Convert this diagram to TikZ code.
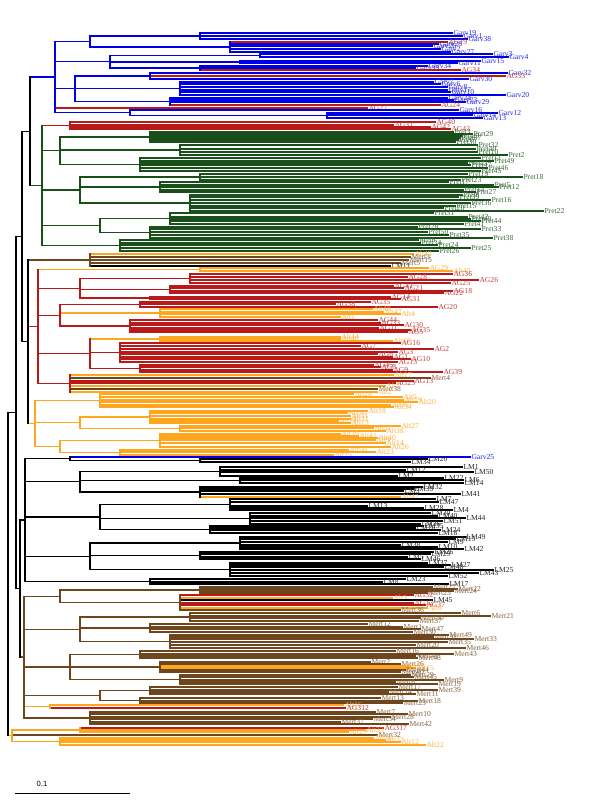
\documentclass[tikz,border=0pt]{standalone}
\usepackage{fontspec}
\setmainfont{Liberation Serif}
\newfontfamily\arialf{Liberation Sans}
\definecolor{gv}{RGB}{0,0,230}
\definecolor{ag}{RGB}{185,25,25}
\definecolor{pt}{RGB}{25,80,25}
\definecolor{al}{RGB}{255,165,30}
\definecolor{lm}{RGB}{0,0,0}
\definecolor{mt}{RGB}{110,70,30}
\tikzset{br/.style={line width=1.05pt,line cap=rect},
  lbl/.style={font=\fontsize{5.7}{6}\selectfont,inner sep=0.6pt,anchor=west}}
\newcommand\Up[1]{\pgfmathsetmacro\cmin{min(\cmin,#1)}\pgfmathsetmacro\cmax{max(\cmax,#1)}}
\newcommand\Op[1]{\begingroup\def\cx{#1}\def\cmin{9999}\def\cmax{-9999}}
\newcommand\Cl[1]{%
  \draw[br,color=#1] (\cx,\cmin) -- (\cx,\cmax);
  \pgfmathsetmacro\cmid{(\cmin+\cmax)/2}%
  \xdef\tmid{\cmid}\xdef\tx{\cx}\xdef\tcol{#1}%
  \endgroup
  \draw[br,color=\tcol] (\cx,\tmid) -- (\tx,\tmid);
  \Up{\tmid}}
\newcommand\Lf[4]{\draw[br,color=#3] (\cx,#1) -- (#2,#1) node[lbl,text=#3!85!white]{#4};\Up{#1}}
\begin{document}
\begin{tikzpicture}[x=0.75pt,y=-0.75pt]
\fill[white] (0,0) rectangle (600,800);
\useasboundingbox (0,0) rectangle (600,800);
\def\cx{8}\def\cmin{9999}\def\cmax{-9999}
\Op{8}
 \Op{16}
  \Op{22}
   \Op{30}
    % ---------- Garv clade
    \Op{55}
     \Op{90}
      \Op{200}\Lf{33}{452}{gv}{Garv19}\Lf{36}{462}{gv}{Garv1}\Lf{39}{467}{gv}{Garv38}\Cl{gv}
      \Op{230}\Lf{42}{447}{ag}{AG19}\Lf{44}{438}{gv}{Garv28}\Lf{46}{432}{gv}{Garv26}\Lf{49}{440}{gv}{Garv2}\Lf{52}{450}{gv}{Garv27}\Cl{gv}
     \Cl{gv}
     \Op{110}
      \Op{260}\Lf{54}{492}{gv}{Garv3}\Lf{57}{508}{gv}{Garv4}\Cl{gv}
      \Op{240}\Lf{61}{480}{gv}{Garv15}\Lf{63}{457}{gv}{Garv11}\Cl{gv}
      \Op{200}\Lf{66}{427}{gv}{Garv34}\Lf{68}{415}{gv}{Garv33}\Lf{70}{460}{ag}{AG34}\Cl{gv}
     \Cl{gv}
     \Op{75}
      \Op{150}\Lf{73}{507}{gv}{Garv32}\Lf{76}{505}{ag}{AG33}\Lf{79}{468}{gv}{Garv30}\Cl{gv}
      \Op{180}\Lf{82}{433}{gv}{Garv7}\Lf{84}{440}{gv}{Garv6}\Lf{87}{447}{gv}{Garv8}\Lf{90}{447}{gv}{Garv17}\Lf{92}{450}{gv}{Garv10}\Lf{95}{505}{gv}{Garv20}\Cl{gv}
      \Op{170}\Lf{98}{447}{gv}{Garv24}\Lf{100}{453}{gv}{Garv23}\Lf{102}{465}{gv}{Garv29}\Lf{105}{440}{ag}{AG24}\Cl{gv}
     \Cl{gv}
     \Lf{108}{367}{ag}{AG27}
     \Op{130}\Lf{110}{458}{gv}{Garv16}
      \Op{327}\Lf{113}{497}{gv}{Garv12}\Lf{115}{472}{gv}{Garv14}\Lf{118}{482}{gv}{Garv13}\Cl{gv}
     \Cl{gv}
    \Cl{gv}
    % ---------- Pret clade
    \Op{42}
     \Op{70}\Lf{122}{435}{ag}{AG40}\Lf{125}{393}{ag}{AG31}\Lf{127}{430}{ag}{AG42}\Lf{129}{450}{ag}{AG43}\Cl{ag}
     \Op{60}
      \Op{150}\Lf{132}{453}{pt}{Pret3}\Lf{134}{472}{pt}{Pret29}\Lf{136}{462}{pt}{Pret9}\Lf{138}{460}{pt}{Pret37}\Lf{140}{458}{pt}{Pret7}\Lf{142}{455}{pt}{Pret30}\Cl{pt}
      \Op{180}\Lf{145}{477}{pt}{Pret32}\Lf{149}{475}{pt}{Pret40}\Lf{152}{477}{pt}{Pret10}\Lf{155}{507}{pt}{Pret2}\Cl{pt}
      \Op{140}\Lf{158}{480}{pt}{Pret11}\Lf{161}{493}{pt}{Pret49}\Lf{163}{467}{pt}{Pret21}\Lf{165}{470}{pt}{Pret47}\Lf{168}{487}{pt}{Pret46}\Lf{171}{480}{pt}{Pret45}\Cl{pt}
     \Cl{pt}
     \Op{80}
      \Op{200}\Lf{174}{467}{pt}{Pret19}\Lf{177}{522}{pt}{Pret18}\Lf{180}{460}{pt}{Pret23}\Cl{pt}
      \Op{160}\Lf{182}{448}{pt}{Pret17}\Lf{185}{493}{pt}{Pret5}\Lf{187}{498}{pt}{Pret12}\Lf{190}{463}{pt}{Pret14}\Lf{192}{475}{pt}{Pret27}\Cl{pt}
      \Op{190}\Lf{195}{462}{pt}{Pret8}\Lf{197}{458}{pt}{Pret39}\Lf{200}{490}{pt}{Pret16}\Lf{203}{470}{pt}{Pret36}\Lf{206}{455}{pt}{Pret15}\Lf{208}{443}{pt}{Pret20}\Lf{211}{543}{pt}{Pret22}\Cl{pt}
     \Cl{pt}
     \Op{100}
      \Op{170}\Lf{213}{433}{pt}{Pret31}\Lf{217}{467}{pt}{Pret42}\Lf{219}{470}{pt}{Pret48}\Lf{221}{480}{pt}{Pret44}\Lf{224}{463}{pt}{Pret41}\Cl{pt}
      \Op{150}\Lf{227}{417}{pt}{Pret28}\Lf{229}{480}{pt}{Pret33}\Lf{232}{427}{pt}{Pret50}\Lf{235}{448}{pt}{Pret35}\Lf{238}{492}{pt}{Pret38}\Cl{pt}
     \Cl{pt}
     \Op{120}\Lf{240}{418}{pt}{Pret6}\Lf{243}{420}{pt}{Pret34}\Lf{245}{437}{pt}{Pret24}\Lf{248}{470}{pt}{Pret25}\Lf{251}{438}{pt}{Pret26}\Cl{pt}
    \Cl{pt}
   \Cl{lm}
   \Op{28}
    % ---------- small mixed group
    \Op{90}\Lf{254}{413}{al}{Alt43}\Lf{257}{410}{mt}{Mert3}\Lf{260}{408}{mt}{Mert15}\Lf{263}{400}{mt}{Mert5}\Lf{266}{390}{lm}{LM11}\Cl{mt}
    % ---------- AG clade
    \Op{38}
     \Op{200}\Lf{268}{428}{al}{AG29}\Lf{271}{452}{al}{Alt45}\Cl{al}
     \Op{80}
      \Op{190}\Lf{274}{452}{ag}{AG36}\Lf{277}{407}{ag}{AG28}\Lf{280}{478}{ag}{AG26}\Lf{283}{450}{ag}{AG25}\Cl{ag}
      \Op{170}\Lf{286}{393}{ag}{AG41}\Lf{288}{403}{ag}{AG21}\Lf{291}{452}{ag}{AG18}\Lf{293}{443}{ag}{AG22}\Cl{ag}
      \Op{150}\Lf{297}{390}{ag}{AG14}\Lf{299}{400}{ag}{AG31}\Cl{ag}
     \Cl{ag}
     \Op{60}
      \Op{140}\Lf{302}{370}{ag}{AG35}\Lf{304}{335}{ag}{AG38}\Lf{307}{437}{ag}{AG20}\Cl{ag}
      \Op{160}\Lf{309}{372}{al}{Alt48}\Lf{312}{383}{al}{Alt47}\Lf{314}{400}{al}{Alt4}\Lf{317}{340}{al}{Alt1}\Cl{al}
      \Op{130}\Lf{320}{377}{ag}{AG44}\Lf{323}{380}{ag}{AG33}\Lf{325}{403}{ag}{AG30}\Lf{328}{378}{ag}{AG11}\Lf{330}{410}{ag}{AG35}\Lf{332}{407}{ag}{AG5}\Cl{ag}
     \Cl{ag}
     \Op{90}
      \Op{160}\Lf{337}{340}{al}{Alt44}\Lf{339}{340}{al}{Alt46}\Lf{341}{392}{al}{Alt10}\Cl{al}
      \Op{120}\Lf{343}{400}{ag}{AG16}\Lf{346}{360}{ag}{AG7}\Lf{349}{433}{ag}{AG2}\Lf{352}{397}{ag}{AG3}\Lf{354}{377}{ag}{AG6}\Lf{357}{392}{ag}{AG1}\Lf{359}{410}{ag}{AG10}\Lf{362}{397}{ag}{AG15}\Cl{ag}
      \Op{140}\Lf{365}{373}{ag}{AG45}\Lf{367}{380}{ag}{AG8}\Lf{370}{392}{ag}{AG9}\Lf{372}{442}{ag}{AG39}\Cl{ag}
     \Cl{ag}
     \Op{70}\Lf{375}{393}{al}{Alt17}\Lf{378}{430}{mt}{Mert4}\Lf{381}{413}{ag}{AG13}\Lf{383}{395}{ag}{AG23}\Lf{386}{385}{al}{Alt7}\Lf{389}{377}{mt}{Mert38}\Lf{392}{377}{al}{Alt2}\Cl{ag}
    \Cl{ag}
    % ---------- Alt clade
    \Op{35}
     \Op{100}\Lf{394}{353}{al}{Alt28}\Lf{397}{402}{al}{Alt5}\Lf{400}{403}{al}{Alt19}\Lf{402}{417}{al}{Alt20}\Lf{405}{390}{al}{Alt35}\Lf{407}{393}{al}{Alt34}\Cl{al}
     \Op{80}
      \Op{150}\Lf{411}{367}{al}{Alt18}\Lf{413}{347}{al}{Alt30}\Lf{416}{350}{al}{Alt11}\Lf{419}{350}{al}{Alt31}\Lf{421}{338}{al}{Alt21}\Lf{423}{350}{al}{Alt13}\Cl{al}
      \Op{180}\Lf{426}{400}{al}{Alt27}\Lf{428}{373}{al}{Alt37}\Lf{431}{385}{al}{Alt38}\Cl{al}
     \Cl{al}
     \Op{60}
      \Op{160}\Lf{434}{340}{al}{Alt39}\Lf{436}{358}{al}{Alt41}\Lf{438}{377}{al}{Alt40}\Lf{440}{375}{al}{Alt9}\Lf{443}{385}{al}{Alt14}\Lf{447}{390}{al}{Alt26}\Cl{al}
      \Op{120}\Lf{450}{348}{al}{Alt50}\Lf{452}{375}{al}{Alt23}\Lf{455}{333}{al}{Alt25}\Cl{al}
     \Cl{al}
    \Cl{al}
   \Cl{lm}
  \Cl{lm}
  \Op{20}
   % ---------- LM clade
   \Op{25}
    \Op{70}\Lf{457}{470}{gv}{Garv25}
     \Op{200}\Lf{459}{427}{lm}{LM20}\Lf{462}{410}{lm}{LM34}\Cl{lm}
    \Cl{lm}
    \Op{80}
     \Op{220}\Lf{467}{462}{lm}{LM1}\Lf{470}{405}{lm}{LM12}\Lf{472}{473}{lm}{LM50}\Lf{476}{397}{lm}{LM2}\Cl{lm}
     \Op{240}\Lf{478}{443}{lm}{LM22}\Lf{480}{463}{lm}{LM6}\Lf{483}{463}{lm}{LM14}\Cl{lm}
     \Op{200}\Lf{487}{422}{lm}{LM32}\Lf{489}{413}{lm}{LM39}\Lf{491}{403}{lm}{LM3}\Lf{494}{460}{lm}{LM41}\Lf{497}{400}{al}{Alt42}\Cl{lm}
    \Cl{lm}
    \Op{100}
     \Op{230}\Lf{499}{435}{lm}{LM7}\Lf{502}{438}{lm}{LM47}\Lf{506}{367}{lm}{LM13}\Lf{508}{423}{lm}{LM28}\Lf{510}{452}{lm}{LM4}\Cl{lm}
     \Op{250}\Lf{513}{430}{lm}{LM30}\Lf{516}{437}{lm}{LM40}\Lf{518}{465}{lm}{LM44}\Lf{521}{442}{lm}{LM51}\Lf{524}{420}{lm}{LM36}\Cl{lm}
     \Op{210}\Lf{526}{423}{lm}{LM35}\Lf{528}{415}{lm}{LM16}\Lf{530}{440}{lm}{LM24}\Lf{533}{437}{lm}{LM18}\Cl{lm}
    \Cl{lm}
    \Op{90}
     \Op{240}\Lf{537}{465}{lm}{LM49}\Lf{539}{455}{lm}{LM15}\Lf{542}{447}{lm}{LM9}\Lf{545}{400}{lm}{LM38}\Lf{547}{437}{lm}{LM10}\Lf{549}{463}{lm}{LM42}\Cl{lm}
     \Op{200}\Lf{552}{433}{lm}{LM26}\Lf{554}{430}{lm}{LM29}\Lf{557}{407}{lm}{LM5}\Lf{559}{420}{lm}{LM46}\Cl{lm}
     \Op{230}\Lf{563}{427}{lm}{LM37}\Lf{565}{450}{lm}{LM27}\Lf{567}{443}{lm}{LM48}\Lf{570}{493}{lm}{LM25}\Lf{573}{478}{lm}{LM43}\Lf{576}{447}{lm}{LM52}\Cl{lm}
    \Cl{lm}
    \Op{150}\Lf{579}{405}{lm}{LM23}\Lf{582}{382}{lm}{LM8}\Lf{584}{448}{lm}{LM17}\Cl{lm}
   \Cl{lm}
   % ---------- Mert clade
   \Op{24}
    \Op{60}
     \Op{200}\Lf{587}{432}{mt}{Mert27}\Lf{589}{457}{mt}{Mert22}\Lf{591}{453}{mt}{Mert24}\Lf{593}{427}{mt}{Mert25}\Cl{mt}
     \Op{180}\Lf{595}{413}{ag}{AG32}\Lf{598}{392}{al}{Alt3}\Lf{600}{432}{lm}{LM45}\Lf{603}{413}{ag}{AG12}\Lf{605}{425}{ag}{AG37}\Lf{608}{427}{al}{Alt6}\Lf{610}{400}{mt}{Mert36}\Cl{mt}
    \Cl{mt}
    \Op{80}
     \Op{190}\Lf{613}{460}{mt}{Mert6}\Lf{616}{490}{mt}{Mert21}\Lf{618}{420}{mt}{Mert50}\Lf{621}{418}{mt}{Mert37}\Cl{mt}
     \Op{150}\Lf{624}{367}{mt}{Mert12}\Lf{627}{402}{mt}{Mert1}\Lf{629}{420}{mt}{Mert47}\Lf{632}{412}{mt}{Mert30}\Cl{mt}
     \Op{170}\Lf{635}{448}{mt}{Mert49}\Lf{637}{433}{mt}{Mert31}\Lf{639}{473}{mt}{Mert33}\Lf{642}{447}{mt}{Mert35}\Lf{645}{415}{mt}{Mert20}\Lf{648}{465}{mt}{Mert46}\Cl{mt}
    \Cl{mt}
    \Op{70}
     \Op{140}\Lf{651}{395}{mt}{Mert16}\Lf{654}{453}{mt}{Mert43}\Lf{656}{415}{mt}{Mert41}\Lf{658}{417}{mt}{Mert48}\Cl{mt}
     \Op{160}\Lf{662}{370}{mt}{Mert2}\Lf{664}{400}{mt}{Mert26}\Lf{666}{410}{al}{Alt8}\Lf{668}{415}{al}{Alt15}\Lf{670}{405}{mt}{Mert44}\Lf{672}{400}{mt}{Mert40}\Cl{mt}
     \Op{180}\Lf{675}{410}{mt}{Mert29}\Lf{677}{413}{mt}{Mert45}\Lf{680}{443}{mt}{Mert9}\Lf{682}{395}{mt}{Mert8}\Lf{684}{437}{mt}{Mert19}\Cl{mt}
    \Cl{mt}
    \Op{100}
     \Op{150}\Lf{687}{397}{mt}{Mert17}\Lf{690}{437}{mt}{Mert39}\Lf{692}{388}{mt}{Mert14}\Lf{694}{415}{mt}{Mert11}\Cl{mt}
     \Op{140}\Lf{698}{380}{mt}{Mert13}\Lf{701}{417}{mt}{Mert18}\Lf{703}{402}{mt}{Mert23}\Cl{mt}
    \Cl{mt}
    \Op{50}\Lf{705}{343}{al}{Alt16}\Lf{708}{345}{ag}{AG312}\Cl{al}
    \Op{90}\Lf{712}{375}{mt}{Mert7}\Lf{714}{407}{mt}{Mert10}\Lf{717}{390}{mt}{Mert28}\Lf{719}{372}{mt}{Mert34}\Lf{722}{340}{mt}{Mert37}\Lf{724}{408}{mt}{Mert42}\Cl{mt}
   \Cl{mt}
  \Cl{lm}
 \Cl{lm}
 % ---------- bottom group
 \Op{12}
  \Op{80}\Lf{728}{383}{ag}{AG317}\Lf{730}{365}{al}{Alt33}\Lf{732}{348}{al}{Alt29}\Cl{al}
  \Op{120}\Lf{735}{377}{mt}{Mert32}\Cl{mt}
  \Op{60}\Lf{738}{373}{al}{Alt36}\Lf{740}{385}{al}{Alt32}\Lf{742}{400}{al}{Alt12}\Lf{745}{425}{al}{Alt22}\Cl{al}
 \Cl{al}
\Cl{lm}
% scale bar
\coordinate (sb1) at (15,793);
\coordinate (sb2) at (130,793);
\draw[line width=0.75pt] (sb1) -- (sb2);
\node[font=\arialf\fontsize{5.7}{6}\selectfont,inner sep=0pt] (sblabel) at (42,784) {0.1};
\end{tikzpicture}
\end{document}
